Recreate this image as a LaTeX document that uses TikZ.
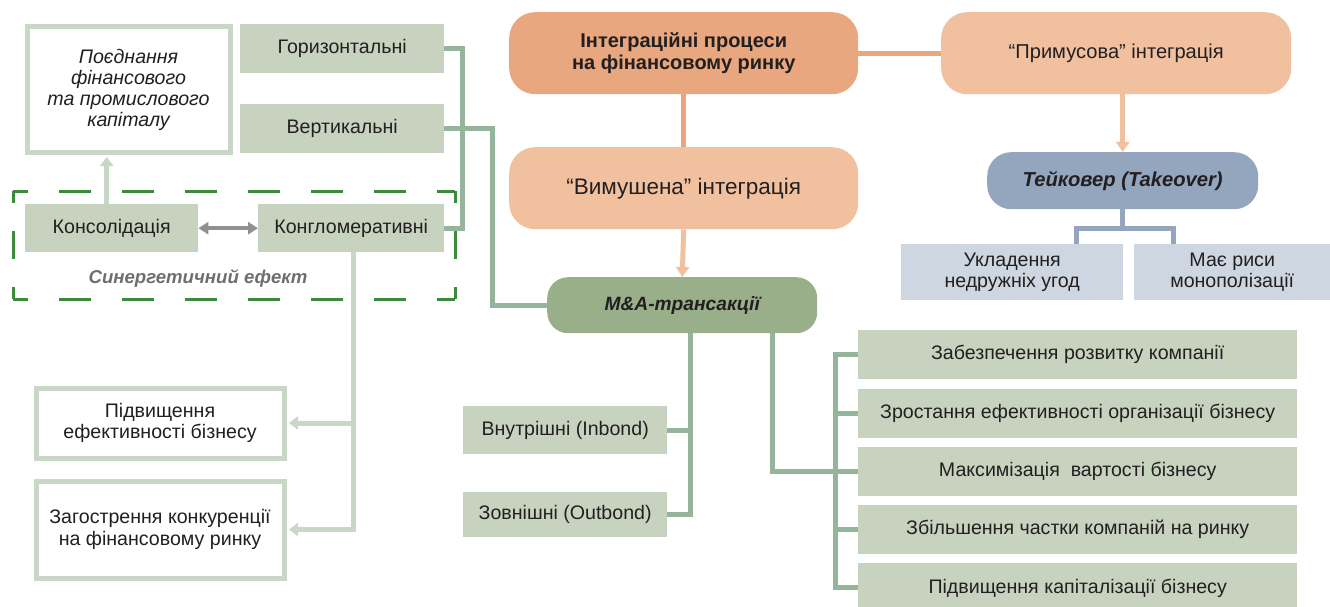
\documentclass[tikz,border=0pt]{standalone}
\usepackage{fontspec}
\setmainfont{Liberation Sans}
\usetikzlibrary{arrows.meta,calc}
\definecolor{txt}{HTML}{231F20}
\definecolor{gfill}{HTML}{C7D3BF}
\definecolor{gline}{HTML}{94B49C}
\definecolor{gborder}{HTML}{C9D7C7}
\definecolor{mafill}{HTML}{98AF89}
\definecolor{odark}{HTML}{E8A77E}
\definecolor{olight}{HTML}{F1C09F}
\definecolor{bdark}{HTML}{94A6BE}
\definecolor{blight}{HTML}{CED6E1}
\definecolor{dgreen}{HTML}{3C8A3C}
\definecolor{greyarr}{HTML}{909090}
\definecolor{greytxt}{HTML}{6E6E6E}
\newcommand\fs{\fontsize{19.6}{21.5}\selectfont}
\newcommand\bx[7]{\node[#2, minimum width=#5pt, minimum height=#6pt] (#1) at (#3,#4) {#7};}
\tikzset{
  base/.style={anchor=north west, inner sep=0pt, align=center, text=txt, font=\fs},
  gbox/.style={base, fill=gfill},
  wbox/.style={base, fill=white, draw=gborder, line width=5pt},
  orbox/.style={base, rounded corners=26pt},
  gconn/.style={draw=gline, line width=5pt},
  lgconn/.style={draw=gborder, line width=5pt},
  oconn/.style={line width=5pt},
  bconn/.style={draw=bdark, line width=5pt},
}
\begin{document}
\begin{tikzpicture}[x=1pt,y=-1pt]
\useasboundingbox (0,0) rectangle (1330,607);
\clip (0,0) rectangle (1330,607);
% left column
\bx{poed}{wbox, font=\fontsize{19.6}{21}\selectfont\itshape}{24.5}{24.5}{203}{125}{Поєднання\\фінансового\\та промислового\\капіталу}
\bx{hor}{gbox}{240}{24}{204}{49}{Горизонтальні}
\bx{vert}{gbox}{240}{104}{204}{49}{Вертикальні}
\bx{kons}{gbox}{25}{204}{173}{48}{Консолідація}
\bx{kong}{gbox}{258}{204}{186}{48}{Конгломеративні}
\bx{pid}{wbox}{33.5}{385.5}{248}{70}{Підвищення\\ефективності бізнесу}
\bx{zag}{wbox}{33.5}{478.5}{248}{97}{Загострення конкуренції\\на фінансовому ринку}
% dashed frame
\draw[dgreen, line width=3pt, dash pattern=on 32pt off 31pt, dash phase=17pt] (13,191) -- (455,191);
\draw[dgreen, line width=3pt, dash pattern=on 32pt off 31pt, dash phase=17pt] (13,299) -- (455,299);
\draw[dgreen, line width=3pt, dash pattern=on 28pt off 28pt, dash phase=16pt] (13,191) -- (13,299);
\draw[dgreen, line width=3pt, dash pattern=on 28pt off 28pt, dash phase=16pt] (455,191) -- (455,299);
\node[text=greytxt, font=\fontsize{18.6}{22}\selectfont\bfseries\itshape, inner sep=0pt] (syn) at (198,278) {Синергетичний ефект};
% centre
\bx{integ}{orbox, fill=odark, font=\fontsize{20}{22}\selectfont\bfseries}{509}{12}{349}{82}{Інтеграційні процеси\\на фінансовому ринку}
\bx{vym}{orbox, fill=olight, font=\fontsize{22.5}{24}\selectfont}{509}{147}{349}{82}{“Вимушена” інтеграція}
\bx{ma}{orbox, rounded corners=21pt, fill=mafill, font=\fontsize{19.2}{22}\selectfont\bfseries\itshape}{547}{277}{270}{56}{M\&A-трансакції}
\bx{vnut}{gbox}{463}{406}{204}{48}{Внутрішні (Inbond)}
\bx{zovn}{gbox}{463}{492}{204}{45}{Зовнішні (Outbond)}
% right
\bx{prim}{orbox, fill=olight, font=\fontsize{20.1}{22}\selectfont}{941}{12}{350}{82}{“Примусова” інтеграція}
\bx{take}{orbox, rounded corners=24pt, fill=bdark, font=\fontsize{20.2}{22}\selectfont\bfseries\itshape}{987}{152}{271}{57}{Тейковер (Takeover)}
\bx{ukl}{base, fill=blight}{901}{244}{222}{56}{Укладення\\недружніх угод}
\bx{mae}{base, fill=blight}{1134}{244}{196}{56}{Має риси\\монополізації}
\bx{r1}{gbox}{858}{330}{439}{49}{Забезпечення розвитку компанії}
\bx{r2}{gbox}{858}{388.3}{439}{49}{Зростання ефективності організації бізнесу}
\bx{r3}{gbox}{858}{446.6}{439}{49}{Максимізація\ \ вартості бізнесу}
\bx{r4}{gbox}{858}{504.9}{439}{49}{Збільшення частки компаній на ринку}
\bx{r5}{gbox}{858}{563.2}{439}{49}{Підвищення капіталізації бізнесу}
% connectors left
\draw[gconn] (hor.east) -- ++(18,0) |- (kong.east);
\draw[gconn] (vert.east) -- ++(48,0) |- (ma.west);
\draw[lgconn, -{Triangle[width=13pt,length=9pt]}] ($(kons.north)+(-5,0)$) -- ($(kons.north |- poed.south)+(-5,2.5)$);
\draw[draw=greyarr, line width=4pt, {Triangle[width=12pt,length=10pt]}-{Triangle[width=12pt,length=10pt]}] (kons.east) -- (kong.west);
\coordinate (kb) at ($(kong.south)+(2,0)$);
\draw[lgconn] (kb) |- ($(zag.east)+(14,0)$);
\draw[lgconn, -{Triangle[width=13pt,length=9pt]}] (kb |- zag.east) -- ($(zag.east)+(2.5,0)$);
\draw[lgconn, -{Triangle[width=13pt,length=9pt]}] (kb |- pid.east) -- ($(pid.east)+(2.5,0)$);
% connectors centre
\draw[odark, oconn] (integ.south) -- (vym.north);
\draw[olight, oconn, -{Triangle[width=13pt,length=10pt]}] (vym.south) -- (ma.north);
\draw[odark, oconn] (integ.east) -- (prim.west);
\draw[olight, oconn, -{Triangle[width=13pt,length=10pt]}] (take.north |- prim.south) -- (take.north);
\coordinate (mal) at ($(ma.south)+(8,0)$);
\draw[gconn] (mal) |- (zovn.east);
\draw[gconn] (mal |- vnut.east) -- (vnut.east);
\coordinate (mar) at ($(ma.south)+(90,0)$);
\draw[gconn] (mar) |- ($(r3.west)+(-23,0)$);
\draw[gconn] (r1.west) -- ++(-23,0) |- (r5.west);
\draw[gconn] (r2.west) -- ++(-23,0);
\draw[gconn] (r3.west) -- ++(-23,0);
\draw[gconn] (r4.west) -- ++(-23,0);
% blue
\coordinate (bj) at ($(take.south)+(0,19)$);
\draw[bconn] (take.south) -- (bj);
\draw[bconn] ($(ukl.north east)+(-47,0)$) |- (bj) -| ($(mae.north west)+(39,0)$);
\end{tikzpicture}
\end{document}
